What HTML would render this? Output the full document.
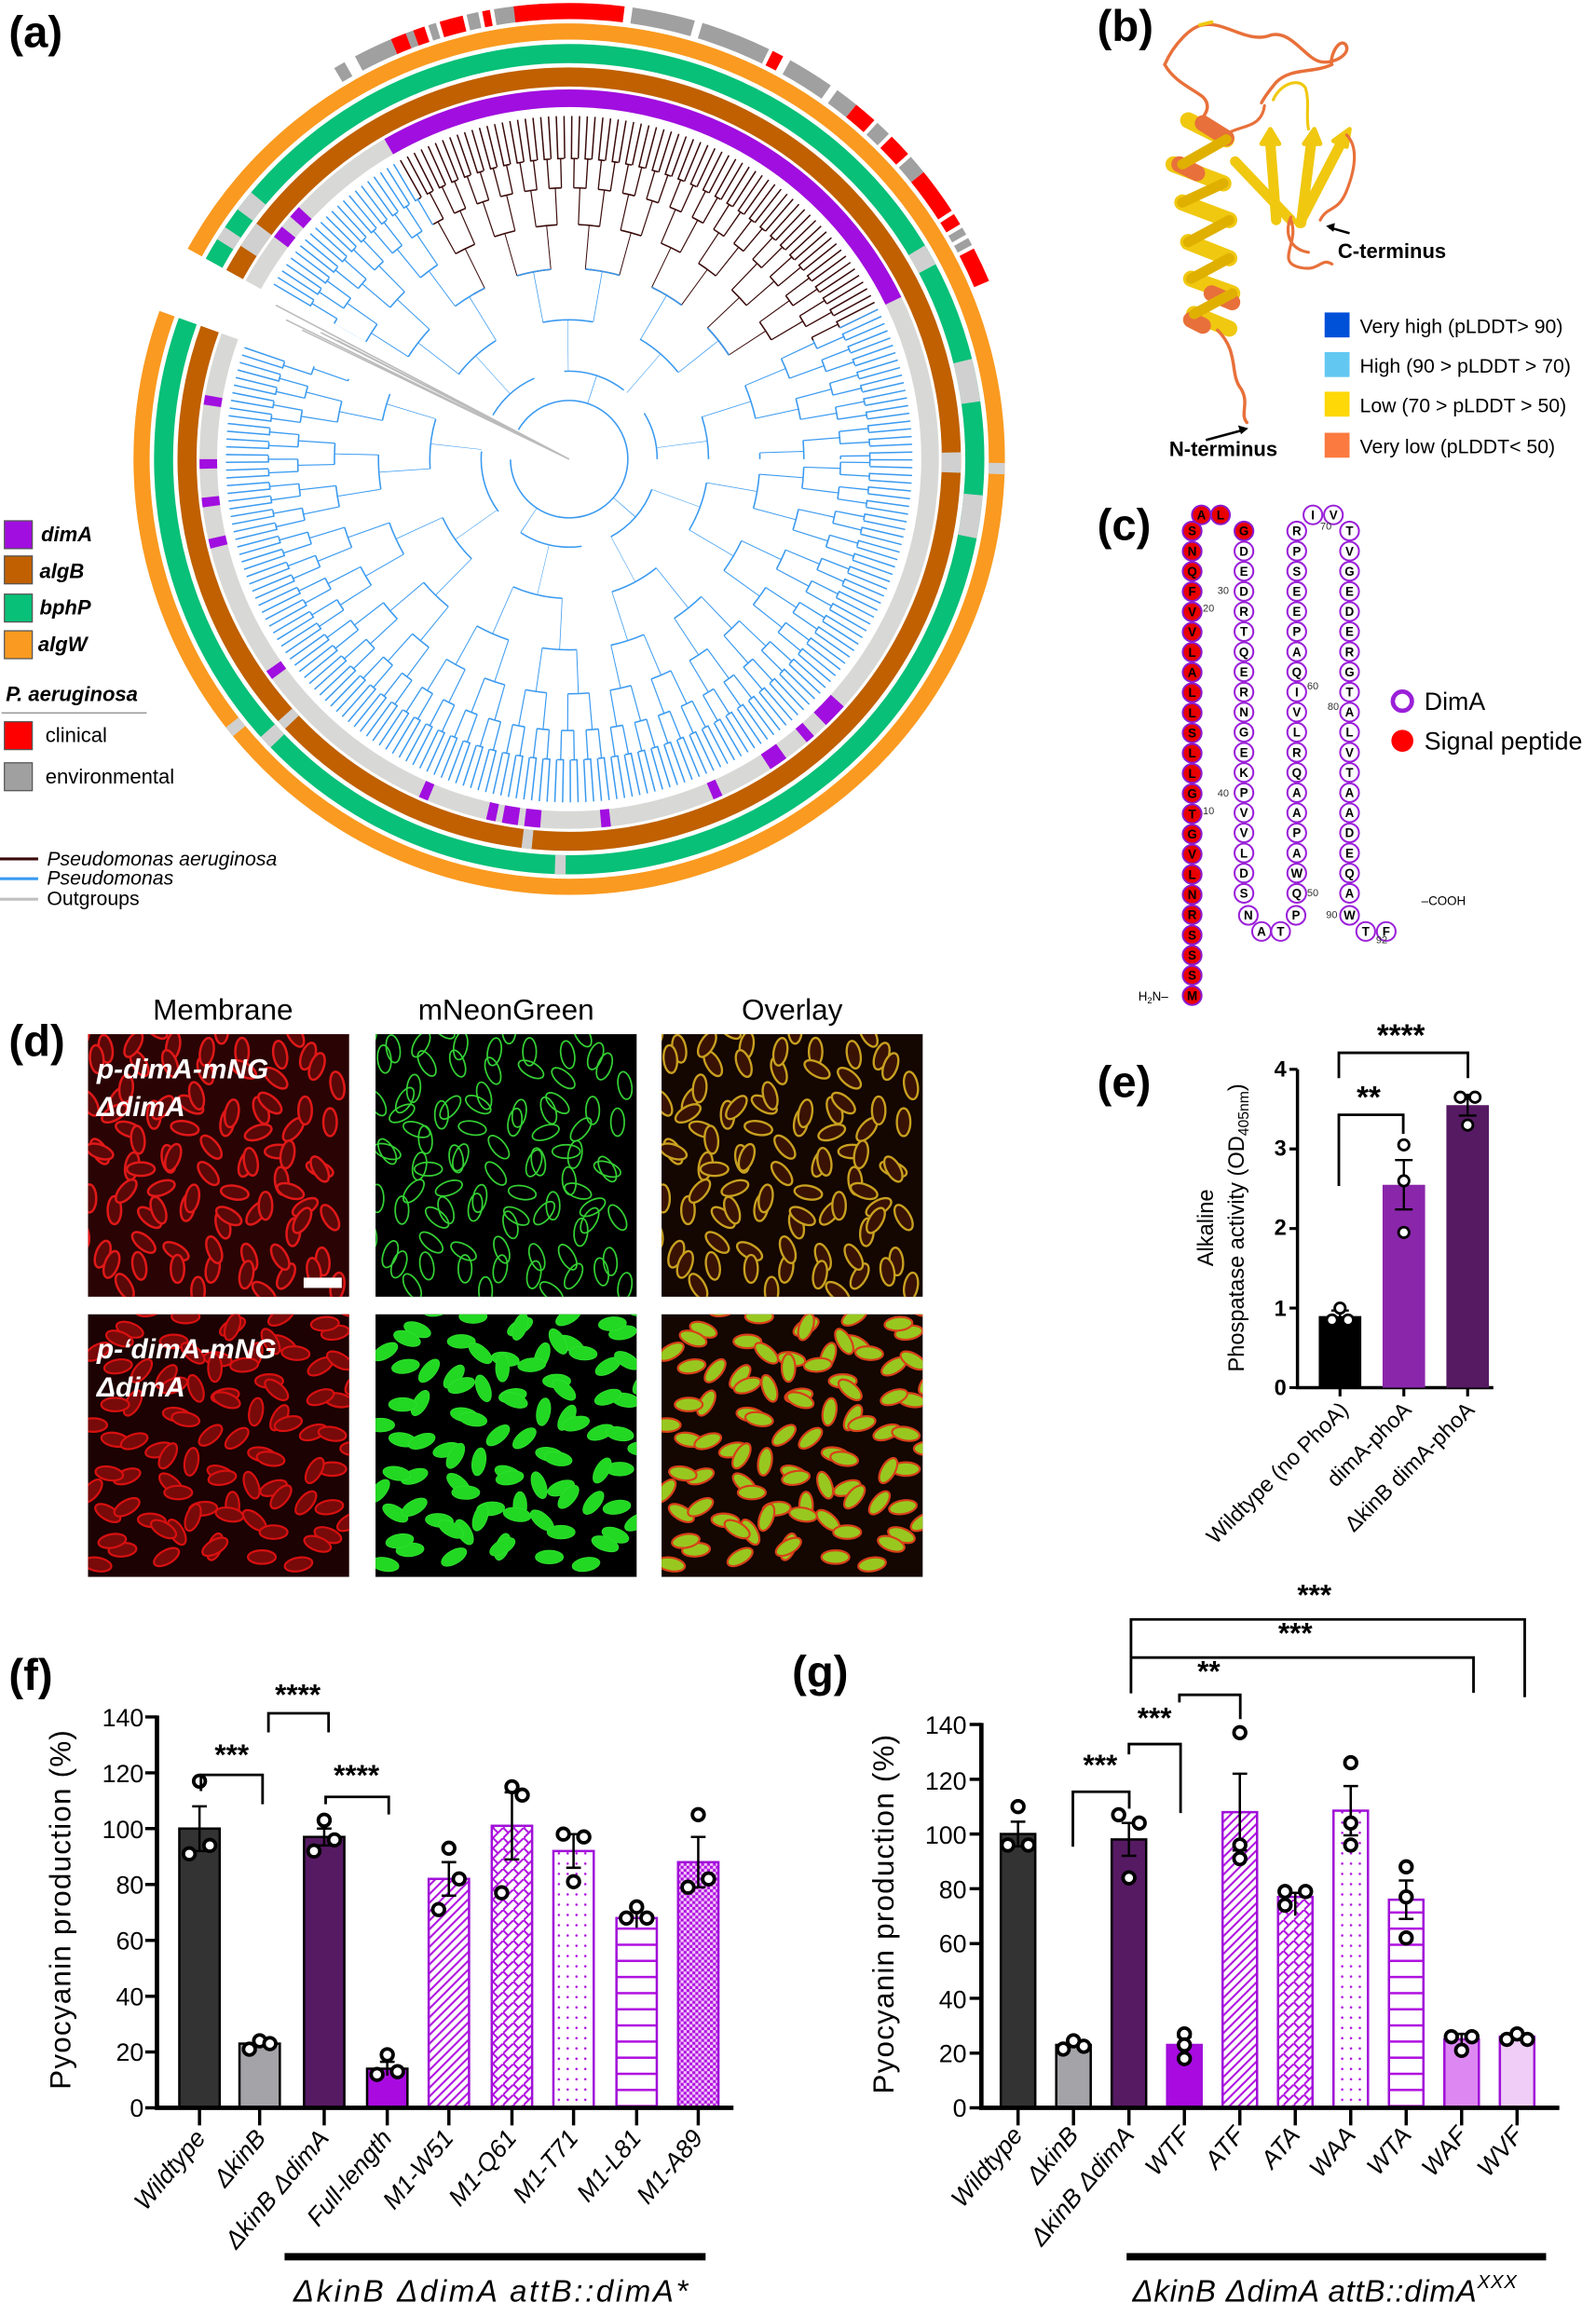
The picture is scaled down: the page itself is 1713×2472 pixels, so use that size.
<!DOCTYPE html>
<html><head><meta charset="utf-8"><style>
html,body{margin:0;padding:0;background:#fff}
svg{display:block}
text{font-family:"Liberation Sans",Arial,sans-serif}
</style></head><body>
<svg xmlns="http://www.w3.org/2000/svg" xmlns:xlink="http://www.w3.org/1999/xlink" width="1713" height="2472" viewBox="0 0 1088 1570">
<defs>
<pattern id="pDiag" width="6" height="6" patternUnits="userSpaceOnUse"><rect width="6" height="6" fill="#fff"/><path d="M-1,7 L7,-1 M-1,1 L1,-1 M5,7 L7,5" stroke="#b010e0" stroke-width="1.3"/></pattern>
<pattern id="pCross" width="7" height="7" patternUnits="userSpaceOnUse"><rect width="7" height="7" fill="#fff"/><path d="M0,7 L7,0 M0,0 L3.5,3.5" stroke="#b010e0" stroke-width="1.3"/></pattern>
<pattern id="pDots" width="6" height="7" patternUnits="userSpaceOnUse"><rect width="6" height="7" fill="#fff"/><circle cx="3" cy="3.5" r="0.8" fill="#b010e0"/></pattern>
<pattern id="pH" width="10" height="11" patternUnits="userSpaceOnUse"><rect width="10" height="11" fill="#fff"/><rect y="5" width="10" height="1.6" fill="#b010e0"/></pattern>
<pattern id="pChk" width="4" height="4" patternUnits="userSpaceOnUse"><rect width="4" height="4" fill="#f2c8fa"/><rect width="2" height="2" fill="#b010e0"/><rect x="2" y="2" width="2" height="2" fill="#b010e0"/></pattern>
<clipPath id="cm" clipPathUnits="userSpaceOnUse"><rect x="0" y="0" width="178" height="179"/></clipPath>
<clipPath id="blueClip" clipPathUnits="userSpaceOnUse"><polygon points="388,313 747.6,137.7 788,313 388,713 -12,313 12.1,176.2"/><polygon points="388,313 41.6,113 188,-33.4"/></clipPath>
<clipPath id="brownClip" clipPathUnits="userSpaceOnUse"><polygon points="388,313 747.6,137.7 588,-33.4 388,-87 188,-33.4"/></clipPath>
<clipPath id="noGap" clipPathUnits="userSpaceOnUse"><polygon points="388,313 12.1,176.2 -12,313 388,713 788,313 388,-87 41.6,113"/></clipPath>
<ellipse id="e" cx="0" cy="0" rx="9.5" ry="4.6"/>
<circle id="w" cx="0" cy="0" r="6.4" fill="#fff" stroke="#9a20d8" stroke-width="1.3"/>
<circle id="rd" cx="0" cy="0" r="6.4" fill="#e80000" stroke="#8a1ad0" stroke-width="1.3"/>
<g id="cells0">
<use href="#e" transform="translate(12,10) rotate(80)"/><use href="#e" transform="translate(35,20) rotate(60)"/><use href="#e" transform="translate(58,8) rotate(100)"/><use href="#e" transform="translate(80,25) rotate(70)"/><use href="#e" transform="translate(105,12) rotate(90)"/><use href="#e" transform="translate(128,30) rotate(40)"/><use href="#e" transform="translate(150,15) rotate(110)"/><use href="#e" transform="translate(170,35) rotate(80)"/>
<use href="#e" transform="translate(20,45) rotate(120)"/><use href="#e" transform="translate(45,55) rotate(90)"/><use href="#e" transform="translate(70,48) rotate(30)"/><use href="#e" transform="translate(95,60) rotate(100)"/><use href="#e" transform="translate(118,52) rotate(70)"/><use href="#e" transform="translate(140,65) rotate(130)"/><use href="#e" transform="translate(165,60) rotate(90)"/>
<use href="#e" transform="translate(8,80) rotate(60)"/><use href="#e" transform="translate(30,90) rotate(100)"/><use href="#e" transform="translate(55,85) rotate(80)"/><use href="#e" transform="translate(82,95) rotate(50)"/><use href="#e" transform="translate(108,88) rotate(110)"/><use href="#e" transform="translate(132,100) rotate(85)"/><use href="#e" transform="translate(158,92) rotate(20)"/>
<use href="#e" transform="translate(18,120) rotate(90)"/><use href="#e" transform="translate(42,125) rotate(40)"/><use href="#e" transform="translate(68,118) rotate(100)"/><use href="#e" transform="translate(92,130) rotate(75)"/><use href="#e" transform="translate(115,122) rotate(130)"/><use href="#e" transform="translate(140,135) rotate(95)"/><use href="#e" transform="translate(165,125) rotate(60)"/>
<use href="#e" transform="translate(10,150) rotate(110)"/><use href="#e" transform="translate(35,158) rotate(80)"/><use href="#e" transform="translate(60,148) rotate(30)"/><use href="#e" transform="translate(85,160) rotate(100)"/><use href="#e" transform="translate(110,152) rotate(70)"/><use href="#e" transform="translate(135,165) rotate(120)"/><use href="#e" transform="translate(160,155) rotate(85)"/>
<use href="#e" transform="translate(25,172) rotate(60)"/><use href="#e" transform="translate(75,175) rotate(90)"/><use href="#e" transform="translate(120,176) rotate(40)"/><use href="#e" transform="translate(170,172) rotate(100)"/><use href="#e" transform="translate(50,105) rotate(160)"/><use href="#e" transform="translate(100,108) rotate(10)"/><use href="#e" transform="translate(148,118) rotate(150)"/><use href="#e" transform="translate(28,65) rotate(20)"/><use href="#e" transform="translate(130,80) rotate(0)"/>
</g>
<g id="cells">
<use href="#cells0"/>
<use href="#cells0" transform="rotate(180 89 89.5) translate(12,7)"/>
</g>
</defs>

<!-- ===== panel a: rings ===== -->
<g fill="none">
<circle cx="388" cy="313" r="291.5" stroke="#fa9a20" stroke-width="11" pathLength="360" stroke-dasharray="351 9" transform="rotate(-151 388 313)"/>
<circle cx="388" cy="313" r="276.5" stroke="#08c078" stroke-width="13" pathLength="360" stroke-dasharray="351 9" transform="rotate(-151 388 313)"/>
<circle cx="388" cy="313" r="260.5" stroke="#c06000" stroke-width="13" pathLength="360" stroke-dasharray="351 9" transform="rotate(-151 388 313)"/>
<circle cx="388" cy="313" r="246" stroke="#d8d8d6" stroke-width="12" pathLength="360" stroke-dasharray="351 9" transform="rotate(-151 388 313)"/>
<g stroke="#d0d0d0" stroke-width="11">
<circle cx="388" cy="313" r="291.5" pathLength="360" stroke-dasharray="1.5 360" transform="rotate(-359.5 388 313)"/>
<circle cx="388" cy="313" r="291.5" pathLength="360" stroke-dasharray="1.5 360" transform="rotate(-219.5 388 313)"/>
</g>
<g stroke="#d0d0d0" stroke-width="13">
<circle cx="388" cy="313" r="276.5" pathLength="360" stroke-dasharray="3 360" transform="rotate(-143 388 313)"/>
<circle cx="388" cy="313" r="276.5" pathLength="360" stroke-dasharray="2 360" transform="rotate(-148 388 313)"/>
<circle cx="388" cy="313" r="276.5" pathLength="360" stroke-dasharray="6 360" transform="rotate(-355 388 313)"/>
<circle cx="388" cy="313" r="276.5" pathLength="360" stroke-dasharray="6 360" transform="rotate(-14 388 313)"/>
<circle cx="388" cy="313" r="276.5" pathLength="360" stroke-dasharray="3 360" transform="rotate(-31 388 313)"/>
<circle cx="388" cy="313" r="276.5" pathLength="360" stroke-dasharray="2 360" transform="rotate(-224 388 313)"/>
<circle cx="388" cy="313" r="276.5" pathLength="360" stroke-dasharray="1.5 360" transform="rotate(-269.5 388 313)"/>
<circle cx="388" cy="313" r="260.5" pathLength="360" stroke-dasharray="4 360" transform="rotate(-147 388 313)"/>
<circle cx="388" cy="313" r="260.5" pathLength="360" stroke-dasharray="3 360" transform="rotate(-1 388 313)"/>
<circle cx="388" cy="313" r="260.5" pathLength="360" stroke-dasharray="1.5 360" transform="rotate(-223.5 388 313)"/>
<circle cx="388" cy="313" r="260.5" pathLength="360" stroke-dasharray="1.5 360" transform="rotate(-264.5 388 313)"/>
</g>
<g stroke="#a10ee0" stroke-width="12">
<circle cx="388" cy="313" r="246" pathLength="360" stroke-dasharray="94 360" transform="rotate(-120 388 313)"/>
<circle cx="388" cy="313" r="246" pathLength="360" stroke-dasharray="2 360" transform="rotate(-139 388 313)"/>
<circle cx="388" cy="313" r="246" pathLength="360" stroke-dasharray="2 360" transform="rotate(-143 388 313)"/>
<circle cx="388" cy="313" r="246" pathLength="360" stroke-dasharray="1.5 360" transform="rotate(-171.5 388 313)"/>
<circle cx="388" cy="313" r="246" pathLength="360" stroke-dasharray="1.5 360" transform="rotate(-181.5 388 313)"/>
<circle cx="388" cy="313" r="246" pathLength="360" stroke-dasharray="1.5 360" transform="rotate(-187.5 388 313)"/>
<circle cx="388" cy="313" r="246" pathLength="360" stroke-dasharray="1.5 360" transform="rotate(-194 388 313)"/>
<circle cx="388" cy="313" r="246" pathLength="360" stroke-dasharray="1.5 360" transform="rotate(-216.5 388 313)"/>
<circle cx="388" cy="313" r="246" pathLength="360" stroke-dasharray="1.5 360" transform="rotate(-247.5 388 313)"/>
<circle cx="388" cy="313" r="246" pathLength="360" stroke-dasharray="1.5 360" transform="rotate(-258.5 388 313)"/>
<circle cx="388" cy="313" r="246" pathLength="360" stroke-dasharray="2.5 360" transform="rotate(-262 388 313)"/>
<circle cx="388" cy="313" r="246" pathLength="360" stroke-dasharray="2.5 360" transform="rotate(-265.5 388 313)"/>
<circle cx="388" cy="313" r="246" pathLength="360" stroke-dasharray="1.5 360" transform="rotate(-276.5 388 313)"/>
<circle cx="388" cy="313" r="246" pathLength="360" stroke-dasharray="1.5 360" transform="rotate(-294.5 388 313)"/>
<circle cx="388" cy="313" r="246" pathLength="360" stroke-dasharray="3 360" transform="rotate(-306 388 313)"/>
<circle cx="388" cy="313" r="246" pathLength="360" stroke-dasharray="1.5 360" transform="rotate(-311.5 388 313)"/>
<circle cx="388" cy="313" r="246" pathLength="360" stroke-dasharray="4 360" transform="rotate(-318 388 313)"/>
</g>
<g stroke="#a0a0a0" stroke-width="11">
<circle cx="388" cy="313" r="305.5" pathLength="360" stroke-dasharray="1.5 360" transform="rotate(-121 388 313)"/>
<circle cx="388" cy="313" r="305.5" pathLength="360" stroke-dasharray="5 360" transform="rotate(-118 388 313)"/>
<circle cx="388" cy="313" r="305.5" pathLength="360" stroke-dasharray="1 360" transform="rotate(-111 388 313)"/>
<circle cx="388" cy="313" r="305.5" pathLength="360" stroke-dasharray="1 360" transform="rotate(-108 388 313)"/>
<circle cx="388" cy="313" r="305.5" pathLength="360" stroke-dasharray="1.5 360" transform="rotate(-103 388 313)"/>
<circle cx="388" cy="313" r="305.5" pathLength="360" stroke-dasharray="6.5 360" transform="rotate(-99.5 388 313)"/>
<circle cx="388" cy="313" r="305.5" pathLength="360" stroke-dasharray="8 360" transform="rotate(-82 388 313)"/>
<circle cx="388" cy="313" r="305.5" pathLength="360" stroke-dasharray="9 360" transform="rotate(-73 388 313)"/>
<circle cx="388" cy="313" r="305.5" pathLength="360" stroke-dasharray="6 360" transform="rotate(-61 388 313)"/>
<circle cx="388" cy="313" r="305.5" pathLength="360" stroke-dasharray="3 360" transform="rotate(-54 388 313)"/>
<circle cx="388" cy="313" r="305.5" pathLength="360" stroke-dasharray="2 360" transform="rotate(-47.5 388 313)"/>
<circle cx="388" cy="313" r="305.5" pathLength="360" stroke-dasharray="2.5 360" transform="rotate(-41.5 388 313)"/>
<circle cx="388" cy="313" r="305.5" pathLength="360" stroke-dasharray="1 360" transform="rotate(-30.5 388 313)"/>
<circle cx="388" cy="313" r="305.5" pathLength="360" stroke-dasharray="1 360" transform="rotate(-29 388 313)"/>
</g>
<g stroke="#ff0000" stroke-width="11">
<circle cx="388" cy="313" r="305.5" pathLength="360" stroke-dasharray="2 360" transform="rotate(-113 388 313)"/>
<circle cx="388" cy="313" r="305.5" pathLength="360" stroke-dasharray="1.5 360" transform="rotate(-110 388 313)"/>
<circle cx="388" cy="313" r="305.5" pathLength="360" stroke-dasharray="3 360" transform="rotate(-106.5 388 313)"/>
<circle cx="388" cy="313" r="305.5" pathLength="360" stroke-dasharray="1 360" transform="rotate(-101 388 313)"/>
<circle cx="388" cy="313" r="305.5" pathLength="360" stroke-dasharray="14 360" transform="rotate(-97 388 313)"/>
<circle cx="388" cy="313" r="305.5" pathLength="360" stroke-dasharray="1.5 360" transform="rotate(-63.5 388 313)"/>
<circle cx="388" cy="313" r="305.5" pathLength="360" stroke-dasharray="3 360" transform="rotate(-51 388 313)"/>
<circle cx="388" cy="313" r="305.5" pathLength="360" stroke-dasharray="3 360" transform="rotate(-45 388 313)"/>
<circle cx="388" cy="313" r="305.5" pathLength="360" stroke-dasharray="6 360" transform="rotate(-39 388 313)"/>
<circle cx="388" cy="313" r="305.5" pathLength="360" stroke-dasharray="1.5 360" transform="rotate(-32.5 388 313)"/>
<circle cx="388" cy="313" r="305.5" pathLength="360" stroke-dasharray="4.5 360" transform="rotate(-27.5 388 313)"/>
</g>
</g>

<!-- tree -->
<g fill="none" stroke="#3a9af0" clip-path="url(#blueClip)">
<circle cx="388" cy="313" r="219.5" stroke-width="29" pathLength="360" stroke-dasharray="0.25 1.05"/>
<circle cx="388" cy="313" r="205" stroke-width="1" pathLength="360" stroke-dasharray="1.3 1.3"/>
<circle cx="388" cy="313" r="195" stroke-width="20" pathLength="360" stroke-dasharray="0 0.525 0.25 1.825"/>
<circle cx="388" cy="313" r="185" stroke-width="1" pathLength="360" stroke-dasharray="0 0.65 2.6 1.95"/>
<circle cx="388" cy="313" r="172.5" stroke-width="25" pathLength="360" stroke-dasharray="0 1.825 0.25 3.125"/>
<circle cx="388" cy="313" r="160" stroke-width="1" pathLength="360" stroke-dasharray="0 1.95 5.2 3.25"/>
<circle cx="388" cy="313" r="145" stroke-width="30" pathLength="360" stroke-dasharray="0 4.425 0.25 5.725"/>
</g>
<g fill="none" stroke="#3a0a0a" clip-path="url(#brownClip)">
<circle cx="388" cy="313" r="219.5" stroke-width="29" pathLength="360" stroke-dasharray="0.25 1.05"/>
<circle cx="388" cy="313" r="205" stroke-width="1" pathLength="360" stroke-dasharray="1.3 1.3"/>
<circle cx="388" cy="313" r="195" stroke-width="20" pathLength="360" stroke-dasharray="0 0.525 0.25 1.825"/>
<circle cx="388" cy="313" r="185" stroke-width="1" pathLength="360" stroke-dasharray="0 0.65 2.6 1.95"/>
<circle cx="388" cy="313" r="172.5" stroke-width="25" pathLength="360" stroke-dasharray="0 1.825 0.25 3.125"/>
<circle cx="388" cy="313" r="160" stroke-width="1" pathLength="360" stroke-dasharray="0 1.95 5.2 3.25"/>
<circle cx="388" cy="313" r="145" stroke-width="30" pathLength="360" stroke-dasharray="0 4.425 0.25 5.725"/>
<circle cx="388" cy="313" r="130" stroke-width="1" pathLength="360" stroke-dasharray="0 4.55 10.4 5.85"/>
</g>
<g fill="none" stroke="#3a9af0" clip-path="url(#noGap)">
<circle cx="388" cy="313" r="130" stroke-width="1" pathLength="360" stroke-dasharray="0 4.55 10.4 5.85"/>
<circle cx="388" cy="313" r="112.5" stroke-width="35" pathLength="360" stroke-dasharray="0 9.625 0.25 10.925"/>
<circle cx="388" cy="313" r="95" stroke-width="1" pathLength="360" stroke-dasharray="0 9.75 20.8 11.05"/>
<circle cx="388" cy="313" r="77.5" stroke-width="35" pathLength="360" stroke-dasharray="0 20.025 0.25 21.325"/>
<circle cx="388" cy="313" r="60" stroke-width="1" pathLength="360" stroke-dasharray="0 20.15 41.6 0"/>
<circle cx="388" cy="313" r="50" stroke-width="20" pathLength="360" stroke-dasharray="0 40.9 0.5 41.1"/>
<circle cx="388" cy="313" r="40" stroke-width="1" pathLength="360" stroke-dasharray="330 30" transform="rotate(-150 388 313)"/>
</g>
<g stroke="#bbb" stroke-width="1">
<path d="M388,313 L218.7,226.7 M388,313 L206,225 M388,313 L195,218 M388,313 L188,208 M388,313 L230,232"/>
</g>

<!-- panel labels -->
<g font-weight="bold" font-size="30">
<text x="6" y="32">(a)</text>
<text x="748" y="28">(b)</text>
<text x="748" y="368">(c)</text>
<text x="6" y="720">(d)</text>
<text x="748" y="748">(e)</text>
<text x="6" y="1152">(f)</text>
<text x="540" y="1150">(g)</text>
</g>

<!-- legend a -->
<g stroke="#555" stroke-width="0.8">
<rect x="3" y="355" width="19" height="19" fill="#a10ee0"/>
<rect x="3" y="379" width="19" height="19" fill="#c06000"/>
<rect x="3" y="405" width="19" height="19" fill="#08c078"/>
<rect x="3" y="430" width="19" height="19" fill="#fa9a20"/>
<rect x="3" y="492" width="19" height="19" fill="#ff0000"/>
<rect x="3" y="520" width="19" height="19" fill="#a0a0a0"/>
</g>
<g font-weight="bold" font-style="italic" font-size="14">
<text x="28" y="369">dimA</text><text x="27" y="394">algB</text><text x="27" y="419">bphP</text><text x="26" y="444">algW</text>
<text x="4" y="478">P. aeruginosa</text>
</g>
<line x1="1" y1="486" x2="100" y2="486" stroke="#999" stroke-width="1"/>
<text x="31" y="506" font-size="14">clinical</text>
<text x="31" y="534" font-size="14">environmental</text>
<line x1="0" y1="585.5" x2="26" y2="585.5" stroke="#3a0a0a" stroke-width="2"/>
<line x1="0" y1="599" x2="26" y2="599" stroke="#3a9af0" stroke-width="2"/>
<line x1="0" y1="613" x2="26" y2="613" stroke="#c0c0c0" stroke-width="2"/>
<g font-size="13.5"><text x="32" y="590" font-style="italic">Pseudomonas aeruginosa</text><text x="32" y="603" font-style="italic">Pseudomonas</text><text x="32" y="617">Outgroups</text></g>

<!-- panel b protein -->
<g fill="none" stroke-linecap="round" stroke-linejoin="round">
<path d="M794,44 C800,30 812,18 820,17 C835,14 850,30 866,24 C880,20 890,40 900,42 C910,44 922,36 917,30 C912,26 906,40 908,44 C895,50 880,46 870,56 C865,62 862,66 860,70" stroke="#e8703a" stroke-width="2.2"/>
<path d="M818,17 L826,15" stroke="#f0c810" stroke-width="2.4"/>
<path d="M794,44 C800,55 812,60 820,66 C826,72 822,78 818,82" stroke="#e8703a" stroke-width="2.2"/>
<path d="M835,92 C845,85 860,88 862,72" stroke="#e8703a" stroke-width="2"/>
<path d="M868,68 C872,58 885,52 890,60 C893,70 890,78 892,88" stroke="#f0c810" stroke-width="2"/>
<path d="M810,82 L836,95 M800,112 L834,125 M806,138 L838,150 M810,165 L838,176 M812,190 L840,200 M814,214 L838,224" stroke="#f0c810" stroke-width="11"/>
<path d="M820,84 L836,94 M804,112 L816,118 M826,200 L840,206 M812,218 L820,222" stroke="#e8703a" stroke-width="11"/>
<path d="M836,95 L806,112 M834,125 L806,138 M838,150 L810,165 M838,176 L812,190 M840,200 L814,214" stroke="#e0b000" stroke-width="7"/>
<path d="M830,225 C845,240 838,255 846,265 C852,275 845,282 850,288" stroke="#e8703a" stroke-width="2.2"/>
<path d="M842,110 L880,150 M870,150 L866,98 M887,152 L894,96 M886,152 L915,96" stroke="#f0c810" stroke-width="7"/>
<path d="M860,98 L866,88 L872,98 Z M889,98 L896,88 L900,98 Z M909,96 L920,88 L918,100 Z" fill="#f0c810" stroke="#f0c810" stroke-width="3"/>
<path d="M880,150 C886,165 870,178 885,182 C900,186 900,175 908,180 M880,148 C875,160 880,170 892,172 M918,92 C926,100 924,115 918,130 C912,145 905,140 900,150" stroke="#e8703a" stroke-width="2"/>
</g>
<path d="M920,159 L906,155" stroke="#000" stroke-width="1.6"/><path d="M904,154 L910,152 L909,158 Z" fill="#000"/>
<path d="M822,300 L848,293" stroke="#000" stroke-width="1.6"/><path d="M851,292 L844,290 L846,296 Z" fill="#000"/>
<text x="912" y="176" font-size="14" font-weight="bold">C-terminus</text>
<text x="797" y="311" font-size="14" font-weight="bold">N-terminus</text>
<rect x="903" y="213" width="17" height="17" fill="#0050d8"/>
<rect x="903" y="240" width="17" height="17" fill="#62c8f2"/>
<rect x="903" y="267" width="17" height="17" fill="#ffd808"/>
<rect x="903" y="295" width="17" height="17" fill="#fa7a40"/>
<g font-size="13.5"><text x="927" y="227">Very high (pLDDT&gt; 90)</text><text x="927" y="254">High (90 &gt; pLDDT &gt; 70)</text><text x="927" y="281">Low (70 &gt; pLDDT &gt; 50)</text><text x="927" y="309">Very low (pLDDT&lt; 50)</text></g>

<!-- panel c topology -->
<g>
<use href="#rd" x="812.7" y="362"/><use href="#rd" x="812.7" y="375.8"/><use href="#rd" x="812.7" y="389.5"/><use href="#rd" x="812.7" y="403.3"/><use href="#rd" x="812.7" y="417.1"/><use href="#rd" x="812.7" y="430.9"/><use href="#rd" x="812.7" y="444.6"/><use href="#rd" x="812.7" y="458.4"/><use href="#rd" x="812.7" y="472.2"/><use href="#rd" x="812.7" y="485.9"/><use href="#rd" x="812.7" y="499.7"/><use href="#rd" x="812.7" y="513.5"/><use href="#rd" x="812.7" y="527.2"/><use href="#rd" x="812.7" y="541"/><use href="#rd" x="812.7" y="554.8"/><use href="#rd" x="812.7" y="568.6"/><use href="#rd" x="812.7" y="582.3"/><use href="#rd" x="812.7" y="596.1"/><use href="#rd" x="812.7" y="609.9"/><use href="#rd" x="812.7" y="623.6"/><use href="#rd" x="812.7" y="637.4"/><use href="#rd" x="812.7" y="651.2"/><use href="#rd" x="812.7" y="664.9"/><use href="#rd" x="812.7" y="678.7"/>
<use href="#rd" x="819" y="351"/><use href="#rd" x="832" y="351"/><use href="#rd" x="848" y="362"/>
<use href="#w" x="848" y="375.7"/><use href="#w" x="848" y="389.4"/><use href="#w" x="848" y="403.2"/><use href="#w" x="848" y="416.9"/><use href="#w" x="848" y="430.6"/><use href="#w" x="848" y="444.3"/><use href="#w" x="848" y="458"/><use href="#w" x="848" y="471.8"/><use href="#w" x="848" y="485.5"/><use href="#w" x="848" y="499.2"/><use href="#w" x="848" y="512.9"/><use href="#w" x="848" y="526.6"/><use href="#w" x="848" y="540.4"/><use href="#w" x="848" y="554.1"/><use href="#w" x="848" y="567.8"/><use href="#w" x="848" y="581.5"/><use href="#w" x="848" y="595.2"/><use href="#w" x="848" y="609"/>
<use href="#w" x="851" y="624"/><use href="#w" x="860" y="635"/><use href="#w" x="873" y="635"/><use href="#w" x="883.5" y="624"/>
<use href="#w" x="884" y="362"/><use href="#w" x="884" y="375.7"/><use href="#w" x="884" y="389.4"/><use href="#w" x="884" y="403.2"/><use href="#w" x="884" y="416.9"/><use href="#w" x="884" y="430.6"/><use href="#w" x="884" y="444.3"/><use href="#w" x="884" y="458"/><use href="#w" x="884" y="471.8"/><use href="#w" x="884" y="485.5"/><use href="#w" x="884" y="499.2"/><use href="#w" x="884" y="512.9"/><use href="#w" x="884" y="526.6"/><use href="#w" x="884" y="540.4"/><use href="#w" x="884" y="554.1"/><use href="#w" x="884" y="567.8"/><use href="#w" x="884" y="581.5"/><use href="#w" x="884" y="595.2"/><use href="#w" x="884" y="609"/>
<use href="#w" x="895" y="351"/><use href="#w" x="909" y="351"/>
<use href="#w" x="920" y="362"/><use href="#w" x="920" y="375.7"/><use href="#w" x="920" y="389.4"/><use href="#w" x="920" y="403.2"/><use href="#w" x="920" y="416.9"/><use href="#w" x="920" y="430.6"/><use href="#w" x="920" y="444.3"/><use href="#w" x="920" y="458"/><use href="#w" x="920" y="471.8"/><use href="#w" x="920" y="485.5"/><use href="#w" x="920" y="499.2"/><use href="#w" x="920" y="512.9"/><use href="#w" x="920" y="526.6"/><use href="#w" x="920" y="540.4"/><use href="#w" x="920" y="554.1"/><use href="#w" x="920" y="567.8"/><use href="#w" x="920" y="581.5"/><use href="#w" x="920" y="595.2"/><use href="#w" x="920" y="609"/>
<use href="#w" x="920" y="624"/><use href="#w" x="931" y="635"/><use href="#w" x="945" y="635"/>
</g>
<g font-size="8.5" font-weight="bold" text-anchor="middle">
<text x="812.7 812.7 812.7 812.7 812.7 812.7 812.7 812.7 812.7 812.7 812.7 812.7 812.7 812.7 812.7 812.7 812.7 812.7 812.7 812.7 812.7 812.7 812.7 812.7" y="365 378.8 392.5 406.3 420.1 433.9 447.6 461.4 475.2 488.9 502.7 516.5 530.2 544 557.8 571.6 585.3 599.1 612.9 626.6 640.4 654.2 667.9 681.7">SNQFVVLALLSLLGTGVLNRSSSM</text>
<text x="848 848 848 848 848 848 848 848 848 848 848 848 848 848 848 848 848 848 848" y="365 378.7 392.4 406.2 419.9 433.6 447.3 461 474.8 488.5 502.2 515.9 529.6 543.4 557.1 570.8 584.5 598.2 612">GDEDRTQERNGEKPVVLDS</text>
<text x="884 884 884 884 884 884 884 884 884 884 884 884 884 884 884 884 884 884 884" y="365 378.7 392.4 406.2 419.9 433.6 447.3 461 474.8 488.5 502.2 515.9 529.6 543.4 557.1 570.8 584.5 598.2 612">RPSEEPAQIVLRQAAPAWQ</text>
<text x="920 920 920 920 920 920 920 920 920 920 920 920 920 920 920 920 920 920 920" y="365 378.7 392.4 406.2 419.9 433.6 447.3 461 474.8 488.5 502.2 515.9 529.6 543.4 557.1 570.8 584.5 598.2 612">TVGEDERGTALVTAADEQA</text>
<text x="819" y="354">A</text><text x="832" y="354">L</text>
<text x="851" y="627">N</text><text x="860" y="638">A</text><text x="873" y="638">T</text><text x="883.5" y="627">P</text>
<text x="895" y="354">I</text><text x="909" y="354">V</text>
<text x="920" y="627">W</text><text x="931" y="638">T</text><text x="945" y="638">F</text>
</g>
<g font-size="7" fill="#333"><text x="820" y="417">20</text><text x="820" y="555">10</text><text x="830" y="405">30</text><text x="830" y="543">40</text><text x="891" y="470">60</text><text x="891" y="611">50</text><text x="900" y="361">70</text><text x="905" y="484">80</text><text x="904" y="626">90</text><text x="938" y="643">92</text></g>
<text x="969" y="617" font-size="8.5">–COOH</text>
<text x="776" y="682" font-size="8.5">H<tspan font-size="6" dy="2">2</tspan><tspan dy="-2">N–</tspan></text>
<circle cx="956" cy="478" r="6.5" fill="none" stroke="#9a20d8" stroke-width="3"/>
<circle cx="956" cy="505" r="7.5" fill="#f00"/>
<text x="971" y="484" font-size="17">DimA</text>
<text x="971" y="511" font-size="17">Signal peptide</text>

<!-- panel d -->
<g font-size="20"><text x="152" y="695" text-anchor="middle">Membrane</text><text x="345" y="695" text-anchor="middle">mNeonGreen</text><text x="540" y="695" text-anchor="middle">Overlay</text></g>
<g transform="translate(60,705)"><rect width="178" height="179" fill="#2a0404"/><g clip-path="url(#cm)"><use href="#cells" fill="#5a0808" stroke="#e01818" stroke-width="1.6"/></g></g>
<g transform="translate(256,705)"><rect width="178" height="179" fill="#000"/><g clip-path="url(#cm)"><use href="#cells" fill="none" stroke="#34d034" stroke-width="1.1"/></g></g>
<g transform="translate(451,705)"><rect width="178" height="179" fill="#140600"/><g clip-path="url(#cm)"><use href="#cells" fill="#3a1204" stroke="#c8a020" stroke-width="1.5"/></g></g>
<g transform="translate(60,896)"><rect width="178" height="179" fill="#1c0202"/><g clip-path="url(#cm)"><use href="#cells" transform="rotate(90 89 89.5)" fill="#780a0a" stroke="#d81010" stroke-width="1.4"/></g></g>
<g transform="translate(256,896)"><rect width="178" height="179" fill="#000"/><g clip-path="url(#cm)"><use href="#cells" transform="rotate(90 89 89.5)" fill="#22d822" stroke="#30e030" stroke-width="0.6"/></g></g>
<g transform="translate(451,896)"><rect width="178" height="179" fill="#140600"/><g clip-path="url(#cm)"><use href="#cells" transform="rotate(90 89 89.5)" fill="#98c820" stroke="#d84018" stroke-width="1.4"/></g></g>
<rect x="207" y="871" width="26" height="7" fill="#fff"/>
<g font-size="19" font-weight="bold" font-style="italic" fill="#fff">
<text x="66" y="735">p-dimA-mNG</text><text x="66" y="761">ΔdimA</text>
<text x="66" y="926">p-‘dimA-mNG</text><text x="66" y="952">ΔdimA</text>
</g>

<!-- panel e -->
<path d="M884.5,729 V946 H1018" stroke="#000" stroke-width="2.2" fill="none"/>
<path d="M879,946 H884.5 M879,891.75 H884.5 M879,837.5 H884.5 M879,783.25 H884.5 M879,729 H884.5 M913.5,946 V952 M957,946 V952 M1000.5,946 V952" stroke="#000" stroke-width="2"/>
<rect x="899" y="897.2" width="29" height="48.8" fill="#000"/>
<rect x="942.5" y="807.7" width="29" height="138.3" fill="#8a26aa"/>
<rect x="986" y="753.4" width="29" height="192.6" fill="#561a63"/>
<path d="M913.5,901 V893.4 M907.5,893.4 h12 M957,824.5 V790.8 M951,790.8 h12 M951,824.5 h12 M1000.5,760.5 V746.4 M994.5,746.4 h12 M994.5,760.5 h12" stroke="#000" stroke-width="1.5"/>
<g fill="#fff" stroke="#000" stroke-width="1.8">
<circle cx="913.5" cy="891.75" r="3.6"/><circle cx="908" cy="899.9" r="3.6"/><circle cx="919" cy="899.9" r="3.6"/>
<circle cx="957" cy="780.5" r="3.6"/><circle cx="957" cy="805" r="3.6"/><circle cx="957" cy="840.2" r="3.6"/>
<circle cx="995.5" cy="748" r="3.6"/><circle cx="1005.5" cy="748" r="3.6"/><circle cx="1000.5" cy="767" r="3.6"/>
</g>
<path d="M912.7,735 V717.7 H1000.7 V735 M912.7,808.5 V760 H956.6 V773" stroke="#000" stroke-width="1.8" fill="none"/>
<g font-size="15" font-weight="bold" text-anchor="end"><text x="877" y="951">0</text><text x="877" y="897">1</text><text x="877" y="842">2</text><text x="877" y="788">3</text><text x="877" y="734">4</text></g>
<text transform="translate(827,837) rotate(-90)" font-size="15" text-anchor="middle">Alkaline</text>
<text transform="translate(848,837) rotate(-90)" font-size="15" text-anchor="middle">Phospatase activity (OD<tspan font-size="10" dy="3">405nm</tspan><tspan dy="-3">)</tspan></text>
<g font-size="15" text-anchor="end">
<text transform="translate(920,962) rotate(-45)">Wildtype (no PhoA)</text>
<text transform="translate(963,962) rotate(-45)">dimA-phoA</text>
<text transform="translate(1006,962) rotate(-45)">ΔkinB dimA-phoA</text>
</g>
<g font-size="21" font-weight="bold" text-anchor="middle"><text x="955" y="713">****</text><text x="933" y="755">**</text></g>

<!-- panel f -->
<rect x="122.25" y="1246.6" width="27.5" height="190.4" fill="#333" stroke="#000" stroke-width="1.6"/>
<rect x="163.25" y="1393.2" width="27.5" height="43.8" fill="#a3a3a8" stroke="#000" stroke-width="1.6"/>
<rect x="207.25" y="1252.3" width="27.5" height="184.7" fill="#561a63" stroke="#000" stroke-width="1.6"/>
<rect x="250.25" y="1410.3" width="27.5" height="26.7" fill="#a80ae0" stroke="#000" stroke-width="1.6"/>
<g stroke="#a010d8" stroke-width="1.6">
<rect x="292.25" y="1280.9" width="27.5" height="156.1" fill="url(#pDiag)"/>
<rect x="335.25" y="1244.7" width="27.5" height="192.3" fill="url(#pCross)"/>
<rect x="377.25" y="1261.9" width="27.5" height="175.1" fill="url(#pDots)"/>
<rect x="420.25" y="1307.6" width="27.5" height="129.4" fill="url(#pH)"/>
<rect x="462.25" y="1269.5" width="27.5" height="167.5" fill="url(#pChk)"/>
</g>
<path d="M107,1169.5 V1437 H500" stroke="#000" stroke-width="3" fill="none"/>
<path d="M99,1437 H107 M99,1398.9 H107 M99,1360.9 H107 M99,1322.8 H107 M99,1284.7 H107 M99,1246.6 H107 M99,1208.6 H107 M99,1170.5 H107 M136,1437 V1449 M177,1437 V1449 M221,1437 V1449 M264,1437 V1449 M306,1437 V1449 M349,1437 V1449 M391,1437 V1449 M434,1437 V1449 M476,1437 V1449" stroke="#000" stroke-width="2.2"/>
<path d="M136,1261.9 V1231.4 M131,1231.4 h10 M131,1261.9 h10 M177,1395.1 V1391.3 M172,1391.3 h10 M221,1258.1 V1246.6 M216,1246.6 h10 M216,1258.1 h10 M264,1415.1 V1405.6 M259,1405.6 h10 M306,1292.3 V1269.5 M301,1269.5 h10 M301,1292.3 h10 M349,1267.6 V1221.9 M344,1221.9 h10 M344,1267.6 h10 M391,1273.3 V1250.4 M386,1250.4 h10 M386,1273.3 h10 M434,1314.2 V1300.9 M429,1300.9 h10 M476,1286.6 V1252.3 M471,1252.3 h10 M471,1286.6 h10" stroke="#000" stroke-width="1.6"/>
<g fill="#fff" stroke="#000" stroke-width="2.4">
<circle cx="129" cy="1263.8" r="4"/><circle cx="136" cy="1214.3" r="4"/><circle cx="143" cy="1258.1" r="4"/>
<circle cx="170" cy="1397" r="4"/><circle cx="177" cy="1391.3" r="4"/><circle cx="184" cy="1393.2" r="4"/>
<circle cx="214" cy="1261.9" r="4"/><circle cx="221" cy="1240.9" r="4"/><circle cx="228" cy="1254.3" r="4"/>
<circle cx="257" cy="1414.2" r="4"/><circle cx="264" cy="1400.8" r="4"/><circle cx="271" cy="1412.3" r="4"/>
<circle cx="299" cy="1301.8" r="4"/><circle cx="306" cy="1260" r="4"/><circle cx="313" cy="1280.9" r="4"/>
<circle cx="342" cy="1290.4" r="4"/><circle cx="349" cy="1218.1" r="4"/><circle cx="356" cy="1223.8" r="4"/>
<circle cx="384" cy="1250.4" r="4"/><circle cx="391" cy="1282.8" r="4"/><circle cx="398" cy="1252.3" r="4"/>
<circle cx="427" cy="1307.6" r="4"/><circle cx="434" cy="1300" r="4"/><circle cx="441" cy="1307.6" r="4"/>
<circle cx="469" cy="1286.6" r="4"/><circle cx="476" cy="1237.1" r="4"/><circle cx="483" cy="1280.9" r="4"/>
</g>

<!-- panel g -->
<rect x="682.25" y="1250.3" width="23.5" height="186.7" fill="#333" stroke="#000" stroke-width="1.6"/>
<rect x="720.05" y="1394.1" width="23.5" height="42.9" fill="#a3a3a8" stroke="#000" stroke-width="1.6"/>
<rect x="757.85" y="1254" width="23.5" height="183" fill="#561a63" stroke="#000" stroke-width="1.6"/>
<g stroke="#a010d8" stroke-width="1.6">
<rect x="795.65" y="1394.1" width="23.5" height="42.9" fill="#a80ae0"/>
<rect x="833.45" y="1235.4" width="23.5" height="201.6" fill="url(#pDiag)"/>
<rect x="871.25" y="1293.2" width="23.5" height="143.8" fill="url(#pCross)"/>
<rect x="909.05" y="1234.4" width="23.5" height="202.6" fill="url(#pDots)"/>
<rect x="946.85" y="1295.1" width="23.5" height="141.9" fill="url(#pH)"/>
<rect x="984.65" y="1390.3" width="23.5" height="46.7" fill="#dd88f2"/>
<rect x="1022.45" y="1388.5" width="23.5" height="48.5" fill="#efcdf7"/>
</g>
<path d="M669,1174.6 V1437 H1063" stroke="#000" stroke-width="3" fill="none"/>
<path d="M661,1437 H669 M661,1399.7 H669 M661,1362.3 H669 M661,1325 H669 M661,1287.6 H669 M661,1250.3 H669 M661,1213 H669 M661,1175.6 H669 M694,1437 V1449 M731.8,1437 V1449 M769.6,1437 V1449 M807.4,1437 V1449 M845.2,1437 V1449 M883,1437 V1449 M920.8,1437 V1449 M958.6,1437 V1449 M996.4,1437 V1449 M1034.2,1437 V1449" stroke="#000" stroke-width="2.2"/>
<path d="M694,1258.7 V1241.9 M689,1241.9 h10 M689,1258.7 h10 M731.8,1395.9 V1392.2 M726.8,1392.2 h10 M769.6,1265.2 V1242.8 M764.6,1242.8 h10 M764.6,1265.2 h10 M807.4,1399.7 V1388.5 M802.4,1388.5 h10 M845.2,1261.5 V1209.2 M840.2,1209.2 h10 M840.2,1261.5 h10 M883,1306 V1290.4 M878,1290.4 h10 M920.8,1251.2 V1217.6 M915.8,1217.6 h10 M915.8,1251.2 h10 M958.6,1308.2 V1282 M953.6,1282 h10 M953.6,1308.2 h10 M996.4,1394.1 V1386.6 M991.4,1386.6 h10 M1034.2,1390.3 V1386.6 M1029.2,1386.6 h10" stroke="#000" stroke-width="1.6"/>
<g fill="#fff" stroke="#000" stroke-width="2.4">
<circle cx="687" cy="1257.8" r="4"/><circle cx="694" cy="1231.6" r="4"/><circle cx="701" cy="1257.8" r="4"/>
<circle cx="724.8" cy="1396.9" r="4"/><circle cx="731.8" cy="1391.3" r="4"/><circle cx="738.8" cy="1395" r="4"/>
<circle cx="762.6" cy="1237.2" r="4"/><circle cx="769.6" cy="1280.2" r="4"/><circle cx="776.6" cy="1242.8" r="4"/>
<circle cx="807.4" cy="1403.4" r="4"/><circle cx="807.4" cy="1386.6" r="4"/><circle cx="807.4" cy="1394.1" r="4"/>
<circle cx="845.2" cy="1267.1" r="4"/><circle cx="845.2" cy="1181.2" r="4"/><circle cx="845.2" cy="1257.8" r="4"/>
<circle cx="876" cy="1298.8" r="4"/><circle cx="876" cy="1289.5" r="4"/><circle cx="890" cy="1289.5" r="4"/>
<circle cx="920.8" cy="1257.8" r="4"/><circle cx="920.8" cy="1201.7" r="4"/><circle cx="920.8" cy="1242.8" r="4"/>
<circle cx="958.6" cy="1321.2" r="4"/><circle cx="958.6" cy="1272.7" r="4"/><circle cx="958.6" cy="1293.2" r="4"/>
<circle cx="989.4" cy="1388.5" r="4"/><circle cx="996.4" cy="1397.8" r="4"/><circle cx="1003.4" cy="1388.5" r="4"/>
<circle cx="1027.2" cy="1390.3" r="4"/><circle cx="1034.2" cy="1386.6" r="4"/><circle cx="1041.2" cy="1390.3" r="4"/>
</g>

<!-- brackets -->
<path d="M137,1221 V1210 H179 V1230 M183,1181 V1168 H224 V1181 M222,1230 V1225 H265 V1237" stroke="#000" stroke-width="1.8" fill="none"/>
<path d="M731.4,1259 V1221.5 H769.8 V1233 M769.6,1196 V1189 H804.8 V1236 M804,1160.6 V1155.4 H845.5 V1172 M771,1154.4 V1104 H1039.4 V1157 M771,1130 H1004.5 V1154" stroke="#000" stroke-width="1.8" fill="none"/>
<g font-size="20" font-weight="bold" text-anchor="middle">
<text x="158" y="1203">***</text><text x="203" y="1162">****</text><text x="243" y="1217">****</text>
<text x="750" y="1210">***</text><text x="787" y="1178">***</text><text x="824" y="1146">**</text><text x="883" y="1120">***</text><text x="896" y="1094">***</text>
</g>

<g font-size="17" text-anchor="end">
<text x="98" y="1443">0</text><text x="98" y="1405">20</text><text x="98" y="1367">40</text><text x="98" y="1329">60</text><text x="98" y="1291">80</text><text x="98" y="1253">100</text><text x="98" y="1215">120</text><text x="98" y="1177">140</text>
<text x="659" y="1443">0</text><text x="659" y="1406">20</text><text x="659" y="1369">40</text><text x="659" y="1331">60</text><text x="659" y="1294">80</text><text x="659" y="1257">100</text><text x="659" y="1220">120</text><text x="659" y="1182">140</text>
</g>
<text transform="translate(48,1302) rotate(-90)" font-size="20" text-anchor="middle" textLength="245">Pyocyanin production (%)</text>
<text transform="translate(609,1305) rotate(-90)" font-size="20" text-anchor="middle" textLength="245">Pyocyanin production (%)</text>
<g font-size="17" font-style="italic" text-anchor="end">
<text transform="translate(141,1458) rotate(-50)">Wildtype</text>
<text transform="translate(182,1458) rotate(-50)">ΔkinB</text>
<text transform="translate(225,1458) rotate(-50)">ΔkinB ΔdimA</text>
<text transform="translate(268,1458) rotate(-50)">Full-length</text>
<text transform="translate(310,1458) rotate(-50)">M1-W51</text>
<text transform="translate(353,1458) rotate(-50)">M1-Q61</text>
<text transform="translate(395,1458) rotate(-50)">M1-T71</text>
<text transform="translate(438,1458) rotate(-50)">M1-L81</text>
<text transform="translate(480,1458) rotate(-50)">M1-A89</text>
<text transform="translate(698,1456) rotate(-50)">Wildtype</text>
<text transform="translate(736,1456) rotate(-50)">ΔkinB</text>
<text transform="translate(774,1456) rotate(-50)">ΔkinB ΔdimA</text>
<text transform="translate(812,1456) rotate(-50)">WTF</text>
<text transform="translate(849,1456) rotate(-50)">ATF</text>
<text transform="translate(887,1456) rotate(-50)">ATA</text>
<text transform="translate(925,1456) rotate(-50)">WAA</text>
<text transform="translate(963,1456) rotate(-50)">WTA</text>
<text transform="translate(1001,1456) rotate(-50)">WAF</text>
<text transform="translate(1039,1456) rotate(-50)">WVF</text>
</g>
<rect x="194" y="1536" width="287" height="5" fill="#000"/>
<rect x="768" y="1536" width="286" height="5" fill="#000"/>
<text x="200" y="1569" font-size="21" font-style="italic" textLength="269">ΔkinB ΔdimA attB::dimA*</text>
<text x="772" y="1569" font-size="21" font-style="italic" textLength="262">ΔkinB ΔdimA attB::dimA<tspan font-size="13" dy="-9">XXX</tspan></text>
</svg>
</body></html>
